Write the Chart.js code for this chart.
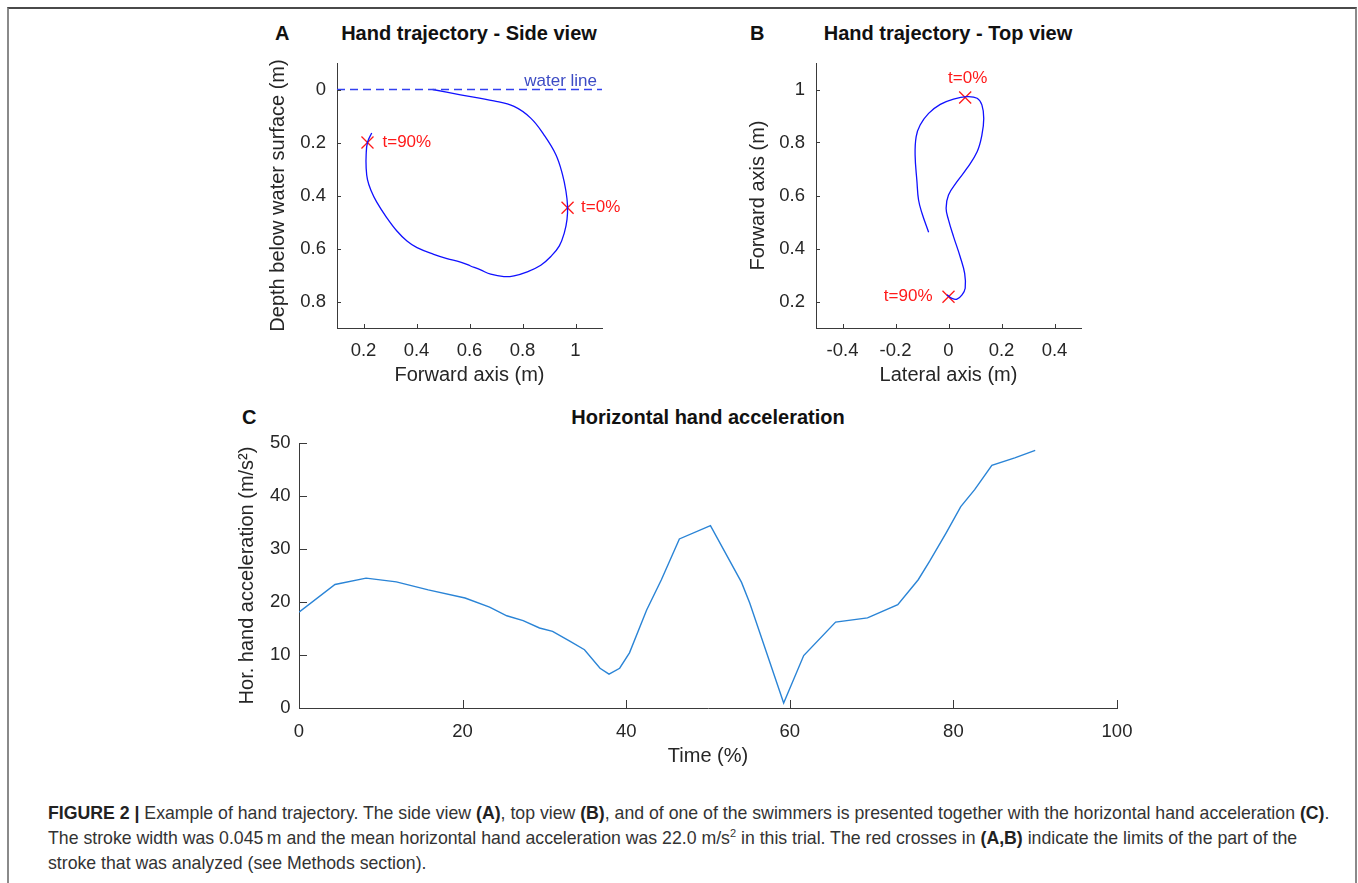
<!DOCTYPE html>
<html>
<head>
<meta charset="utf-8">
<script src="https://cdn.jsdelivr.net/npm/chart.js@4/dist/chart.umd.min.js"></script>
<style>
html,body{margin:0;padding:0;background:#fff;}
body{width:1358px;height:883px;position:relative;overflow:hidden;font-family:'Liberation Sans',Arial,Helvetica,sans-serif;}
.frame{position:absolute;left:7px;top:7px;width:1346px;height:900px;border:2px solid #8a8a8a;border-top-color:#4a4a4a;}
canvas{position:absolute;}
.t{position:absolute;font-size:20px;line-height:20px;font-weight:bold;color:#111;white-space:nowrap;}
.ct{transform:translateX(-50%);}
.cap{position:absolute;left:48px;top:801px;font-size:17.7px;line-height:25px;color:#333;white-space:nowrap;}
.cap b{color:#222;}
.cap sup{font-size:11px;line-height:0;vertical-align:7px;}
</style>
</head>
<body>
<div class="frame"></div>

<div class="t" style="left:275px;top:23px;">A</div>
<div class="t ct" style="left:469px;top:23px;">Hand trajectory - Side view</div>
<div class="t" style="left:750px;top:23px;">B</div>
<div class="t ct" style="left:948px;top:23px;">Hand trajectory - Top view</div>
<div class="t" style="left:242px;top:407px;">C</div>
<div class="t ct" style="left:708px;top:407px;">Horizontal hand acceleration</div>

<canvas id="cA" width="450" height="367" style="left:200px;top:23px;"></canvas>
<canvas id="cB" width="450" height="367" style="left:680px;top:23px;"></canvas>
<canvas id="cC" width="980" height="372" style="left:180px;top:403px;"></canvas>

<div class="cap">
<div><b>FIGURE 2 |</b> Example of hand trajectory. The side view <b>(A)</b>, top view <b>(B)</b>, and of one of the swimmers is presented together with the horizontal hand acceleration <b>(C)</b>.</div>
<div>The stroke width was 0.045&#8201;m and the mean horizontal hand acceleration was 22.0 m/s<sup>2</sup> in this trial. The red crosses in <b>(A,B)</b> indicate the limits of the part of the</div>
<div>stroke that was analyzed (see Methods section).</div>
</div>

<script>
// ---------- DATA ----------
// Panel A: side view (forward axis vs depth below surface)
const sideForward = [0.461, 0.566, 0.692, 0.768, 0.831, 0.881, 0.926, 0.951, 0.964, 0.970, 0.968, 0.958, 0.939, 0.907, 0.869, 0.818, 0.768, 0.730, 0.680, 0.642, 0.604, 0.566, 0.515, 0.465, 0.402, 0.364, 0.326, 0.288, 0.250, 0.228, 0.215, 0.210, 0.210, 0.215, 0.231];
const sideDepth   = [0.000, 0.020, 0.043, 0.064, 0.108, 0.171, 0.246, 0.321, 0.384, 0.440, 0.490, 0.540, 0.590, 0.630, 0.663, 0.688, 0.703, 0.706, 0.697, 0.681, 0.666, 0.651, 0.638, 0.622, 0.597, 0.572, 0.534, 0.484, 0.425, 0.380, 0.340, 0.296, 0.246, 0.200, 0.164];
const sideCrossForward = [0.970, 0.215];
const sideCrossDepth   = [0.446, 0.200];
const crossLabels = ['t=0%', 't=90%'];
const waterLineForward = [0.1, 1.1];
const waterLineDepth   = [0, 0];
const waterLineLabel = 'water line';
const sideXTicks = [0.2, 0.4, 0.6, 0.8, 1];
const sideYTicks = [0, 0.2, 0.4, 0.6, 0.8];

// Panel B: top view (lateral axis vs forward axis)
const topLateral = [-0.075, -0.100, -0.113, -0.119, -0.126, -0.122, -0.107, -0.075, -0.031, 0.019, 0.070, 0.108, 0.126, 0.133, 0.126, 0.108, 0.070, 0.032, 0.000, -0.009, 0.000, 0.019, 0.044, 0.061, 0.063, 0.051, 0.032, 0.013, -0.006];
const topForward = [0.461, 0.533, 0.583, 0.652, 0.753, 0.822, 0.866, 0.910, 0.944, 0.964, 0.973, 0.967, 0.942, 0.891, 0.828, 0.765, 0.703, 0.652, 0.602, 0.552, 0.508, 0.445, 0.369, 0.306, 0.250, 0.225, 0.209, 0.212, 0.225];
const topCrossLateral = [0.063, 0.000];
const topCrossForward = [0.970, 0.218];
const topXTicks = [-0.4, -0.2, 0, 0.2, 0.4];
const topYTicks = [0.2, 0.4, 0.6, 0.8, 1];

// Panel C: horizontal hand acceleration over time
const timePct = [0, 4.4, 8.2, 11.9, 15.8, 20.3, 23.3, 25.4, 27.4, 29.4, 31.0, 33.1, 34.9, 36.8, 37.9, 39.2, 40.4, 42.5, 44.3, 46.5, 50.3, 54.1, 55.1, 59.25, 61.7, 65.6, 69.5, 73.2, 75.7, 77.1, 79.1, 80.9, 82.6, 84.7, 87.5, 90.0];
const accel   = [18.1, 23.3, 24.5, 23.8, 22.3, 20.75, 19.05, 17.4, 16.5, 15.1, 14.45, 12.6, 11.0, 7.5, 6.4, 7.5, 10.4, 18.5, 24.2, 31.9, 34.4, 23.7, 19.8, 0.94, 9.9, 16.2, 17.0, 19.5, 24.2, 27.7, 33.0, 38.0, 41.2, 45.8, 47.2, 48.6];
const accXTicks = [0, 20, 40, 60, 80, 100];
const accYTicks = [0, 10, 20, 30, 40, 50];

// ---------- STYLE / HELPERS ----------
const FONT = "'Liberation Sans', Arial, Helvetica, sans-serif";
const AXIS = '#3a3a3a';
const TXT = '#262626';
const RED = '#ff1a1a';
Chart.defaults.font.family = FONT;
Chart.defaults.color = TXT;

const pts = (xs, ys) => xs.map((x, i) => ({x: x, y: ys[i]}));
const fmt = v => String(+Number(v).toFixed(2));

function inwardTicks(len) {
  return {
    id: 'inwardTicks',
    afterDraw(chart) {
      const ctx = chart.ctx, a = chart.chartArea, xs = chart.scales.x, ys = chart.scales.y;
      ctx.save();
      ctx.strokeStyle = AXIS; ctx.lineWidth = 1;
      ctx.beginPath();
      xs.ticks.forEach(t => { const p = Math.round(xs.getPixelForValue(t.value)) + 0.5; ctx.moveTo(p, a.bottom); ctx.lineTo(p, a.bottom - len); });
      ys.ticks.forEach(t => { const p = Math.round(ys.getPixelForValue(t.value)) + 0.5; ctx.moveTo(a.left, p); ctx.lineTo(a.left + len, p); });
      ctx.stroke();
      ctx.restore();
    }
  };
}
function notes(items) {
  return {
    id: 'notes',
    afterDatasetsDraw(chart) {
      const ctx = chart.ctx, xs = chart.scales.x, ys = chart.scales.y;
      items.forEach(n => {
        ctx.save();
        ctx.font = n.font; ctx.fillStyle = n.color; ctx.textAlign = n.align; ctx.textBaseline = n.baseline;
        ctx.fillText(n.text, xs.getPixelForValue(n.x) + n.dx, ys.getPixelForValue(n.y) + n.dy);
        ctx.restore();
      });
    }
  };
}
function axis(opts) {
  return {
    type: 'linear',
    position: opts.position,
    min: opts.min, max: opts.max,
    reverse: !!opts.reverse,
    afterBuildTicks: s => { s.ticks = opts.ticks.map(v => ({value: v})); },
    afterFit: s => { if (opts.position === 'left') s.width = opts.size; else s.height = opts.size; },
    grid: {display: false, drawTicks: false, tickLength: 0},
    border: {display: true, color: AXIS, width: 1},
    ticks: {autoSkip: false, maxRotation: 0, padding: opts.tpad, color: TXT, font: {size: 18.5}, callback: v => fmt(v)},
    title: {display: true, text: opts.title, color: TXT, font: {size: 20}, padding: opts.titlePad}
  };
}
const base = (pad) => ({
  responsive: false, animation: false, events: [],
  layout: {padding: pad},
  plugins: {legend: {display: false}, tooltip: {enabled: false}, title: {display: false}}
});

// ---------- PANEL A ----------
const optA = base({top: 40, right: 48, left: 0, bottom: 0});
optA.scales = {
  x: axis({position: 'bottom', min: 0.1, max: 1.1, ticks: sideXTicks, size: 62, tpad: 12, title: 'Forward axis (m)', titlePad: {top: 0, bottom: 3}}),
  y: axis({position: 'left', min: -0.1, max: 0.9, reverse: true, ticks: sideYTicks, size: 137, tpad: 11, title: 'Depth below water surface (m)', titlePad: {top: 66, bottom: 0}})
};
new Chart(document.getElementById('cA'), {
  type: 'scatter',
  data: {datasets: [
    {data: pts(waterLineForward, waterLineDepth), showLine: true, borderColor: '#3340f0', borderWidth: 1.4, borderDash: [8, 5], pointRadius: 0, tension: 0},
    {data: pts(sideForward, sideDepth), showLine: true, borderColor: '#1010ff', borderWidth: 1.3, pointRadius: 0, tension: 0.4},
    {data: pts(sideCrossForward, sideCrossDepth), showLine: false, pointStyle: 'crossRot', pointRadius: 8.5, borderColor: RED, borderWidth: 1.3}
  ]},
  options: optA,
  plugins: [inwardTicks(4), notes([
    {x: waterLineForward[1], y: waterLineDepth[1], dx: -5, dy: -4, text: waterLineLabel, align: 'right', baseline: 'alphabetic', color: '#3d4cc4', font: '17px ' + FONT},
    {x: sideCrossForward[0], y: sideCrossDepth[0], dx: 13.5, dy: 0, text: crossLabels[0], align: 'left', baseline: 'middle', color: RED, font: '17px ' + FONT},
    {x: sideCrossForward[1], y: sideCrossDepth[1], dx: 15, dy: 0, text: crossLabels[1], align: 'left', baseline: 'middle', color: RED, font: '17px ' + FONT}
  ])]
});

// ---------- PANEL B ----------
const optB = base({top: 40, right: 49, left: 0, bottom: 0});
optB.scales = {
  x: axis({position: 'bottom', min: -0.5, max: 0.5, ticks: topXTicks, size: 62, tpad: 12, title: 'Lateral axis (m)', titlePad: {top: 0, bottom: 3}}),
  y: axis({position: 'left', min: 0.1, max: 1.1, ticks: topYTicks, size: 136, tpad: 11, title: 'Forward axis (m)', titlePad: {top: 66, bottom: 0}})
};
new Chart(document.getElementById('cB'), {
  type: 'scatter',
  data: {datasets: [
    {data: pts(topLateral, topForward), showLine: true, borderColor: '#1010ff', borderWidth: 1.3, pointRadius: 0, tension: 0.4},
    {data: pts(topCrossLateral, topCrossForward), showLine: false, pointStyle: 'crossRot', pointRadius: 8.5, borderColor: RED, borderWidth: 1.3}
  ]},
  options: optB,
  plugins: [inwardTicks(4), notes([
    {x: topCrossLateral[0], y: topCrossForward[0], dx: 2.5, dy: -19, text: crossLabels[0], align: 'center', baseline: 'middle', color: RED, font: '17px ' + FONT},
    {x: topCrossLateral[1], y: topCrossForward[1], dx: -16, dy: 0, text: crossLabels[1], align: 'right', baseline: 'middle', color: RED, font: '17px ' + FONT}
  ])]
});

// ---------- PANEL C ----------
const optC = base({top: 40, right: 43, left: 0, bottom: 0});
optC.scales = {
  x: axis({position: 'bottom', min: 0, max: 100, ticks: accXTicks, size: 67, tpad: 12.5, title: 'Time (%)', titlePad: {top: 0, bottom: 7}}),
  y: axis({position: 'left', min: 0, max: 50, ticks: accYTicks, size: 119, tpad: 8.5, title: 'Hor. hand acceleration (m/s²)', titlePad: {top: 55, bottom: 0}})
};
new Chart(document.getElementById('cC'), {
  type: 'scatter',
  data: {datasets: [
    {data: pts(timePct, accel), showLine: true, borderColor: '#2a84d6', borderWidth: 1.4, pointRadius: 0, tension: 0}
  ]},
  options: optC,
  plugins: [inwardTicks(8)]
});
</script>
</body>
</html>
